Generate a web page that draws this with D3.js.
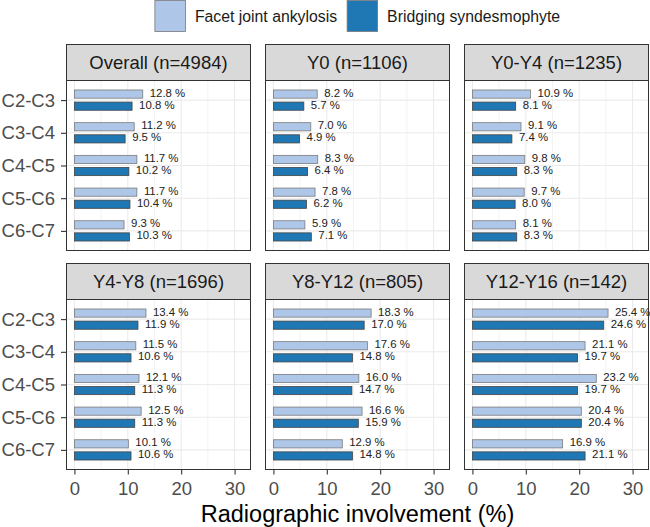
<!DOCTYPE html>
<html>
<head>
<meta charset="utf-8">
<script src="https://cdn.jsdelivr.net/npm/d3@7"></script>
<style>
  body { margin: 0; background: #fff; }
  text { font-family: "Liberation Sans", Arial, sans-serif; }
</style>
</head>
<body>
<div id="chart"></div>
<script>
// data
const levels = ["C2-C3", "C3-C4", "C4-C5", "C5-C6", "C6-C7"];
const panels = ["Overall (n=4984)", "Y0 (n=1106)", "Y0-Y4 (n=1235)",
                "Y4-Y8 (n=1696)", "Y8-Y12 (n=805)", "Y12-Y16 (n=142)"];
const seriesNames = ["Facet joint ankylosis", "Bridging syndesmophyte"];
const facetVals = [
  [12.8, 11.2, 11.7, 11.7, 9.3],
  [8.2, 7.0, 8.3, 7.8, 5.9],
  [10.9, 9.1, 9.8, 9.7, 8.1],
  [13.4, 11.5, 12.1, 12.5, 10.1],
  [18.3, 17.6, 16.0, 16.6, 12.9],
  [25.4, 21.1, 23.2, 20.4, 16.9]
];
const bridgingVals = [
  [10.8, 9.5, 10.2, 10.4, 10.3],
  [5.7, 4.9, 6.4, 6.2, 7.1],
  [8.1, 7.4, 8.3, 8.0, 8.3],
  [11.9, 10.6, 11.3, 11.3, 10.6],
  [17.0, 14.8, 14.7, 15.9, 14.8],
  [24.6, 19.7, 19.7, 20.4, 21.1]
];
const xTicks = [0, 10, 20, 30];
const xMinor = [5, 15, 25];

const width = 650, height = 527;
const colors = ["#aec7e8", "#1f77b4"];

const colLeft = [66, 265, 464];
const panelW = 185;
const rowTop = [44, 263];
const stripH = 36;
const panelH = 170;

let svg = d3.select("#chart")
    .append("svg")
    .attr("width", width)
    .attr("height", height);

// x scale: limits 0..31.5 with 5% expansion each side
let xmax = 31.5;
let x = d3.scaleLinear()
    .domain([-0.05 * xmax, 1.05 * xmax])
    .range([0, panelW]);

// y positions for the vertebra levels
let y = d3.scalePoint()
    .domain(levels)
    .range([0, panelH])
    .padding(0.6);
let step = y.step();

// legend, centred over the panels
let legend = svg.append("g");
let keyW = 30.5, keyH = 31, keyGap = 9.5, itemGap = 10;
let cursor = 0;
seriesNames.forEach(function(name, i) {
    legend.append("rect")
        .attr("x", cursor)
        .attr("y", 0.5)
        .attr("width", keyW)
        .attr("height", keyH)
        .attr("fill", colors[i])
        .attr("stroke", "#777")
        .attr("stroke-width", 0.8);
    let t = legend.append("text")
        .attr("x", cursor + keyW + keyGap)
        .attr("y", 16)
        .attr("dy", "0.35em")
        .style("font-size", "15.8px")
        .attr("fill", "#1a1a1a")
        .text(name);
    cursor += keyW + keyGap + t.node().getComputedTextLength() + itemGap;
});
let legendW = cursor - itemGap;
let centre = (colLeft[0] + colLeft[2] + panelW) / 2;
legend.attr("transform", "translate(" + (centre - legendW / 2) + ",0)");

panels.forEach(function(title, p) {
    let col = p % 3, row = Math.floor(p / 3);
    let g = svg.append("g")
        .attr("transform", "translate(" + colLeft[col] + "," + rowTop[row] + ")");

    // strip
    g.append("rect")
        .attr("x", 0.5).attr("y", 0.5)
        .attr("width", panelW - 1).attr("height", stripH)
        .attr("fill", "#d9d9d9")
        .attr("stroke", "#333")
        .attr("stroke-width", 1);
    g.append("text")
        .attr("x", panelW / 2)
        .attr("y", stripH / 2 + 0.5)
        .attr("dy", "0.35em")
        .style("text-anchor", "middle")
        .style("font-size", "18.5px")
        .attr("fill", "#1a1a1a")
        .text(title);

    let body = g.append("g").attr("transform", "translate(0," + (stripH + 0.5) + ")");

    // grid
    body.selectAll(".minor")
        .data(xMinor)
        .enter()
        .append("line")
        .attr("x1", d => x(d)).attr("x2", d => x(d))
        .attr("y1", 0).attr("y2", panelH)
        .attr("stroke", "#ebebeb").attr("stroke-width", 0.6);
    body.selectAll(".major")
        .data(xTicks)
        .enter()
        .append("line")
        .attr("x1", d => x(d)).attr("x2", d => x(d))
        .attr("y1", 0).attr("y2", panelH)
        .attr("stroke", "#ebebeb").attr("stroke-width", 1.1);
    body.selectAll(".hgrid")
        .data(levels)
        .enter()
        .append("line")
        .attr("x1", 0).attr("x2", panelW)
        .attr("y1", d => y(d)).attr("y2", d => y(d))
        .attr("stroke", "#ebebeb").attr("stroke-width", 1.1);

    // bars and their labels
    let rows = levels.map(function(lv, i) {
        return {level: lv, vals: [facetVals[p][i], bridgingVals[p][i]]};
    });
    rows.forEach(function(r) {
        r.vals.forEach(function(v, s) {
            let cy = y(r.level) + (s === 0 ? -0.185 : 0.185) * step;
            body.append("rect")
                .attr("x", x(0))
                .attr("y", cy - 0.125 * step)
                .attr("width", x(v) - x(0))
                .attr("height", 0.25 * step)
                .attr("fill", colors[s])
                .attr("stroke", s === 0 ? "#7a7a7a" : "#444")
                .attr("stroke-width", 0.8);
            body.append("text")
                .attr("x", x(v) + 7)
                .attr("y", cy - 1.5)
                .attr("dy", "0.35em")
                .style("font-size", "11.4px")
                .attr("fill", "#222")
                .text(v.toFixed(1) + " %");
        });
    });

    // panel border
    body.append("rect")
        .attr("x", 0.5).attr("y", 0)
        .attr("width", panelW - 1).attr("height", panelH)
        .attr("fill", "none")
        .attr("stroke", "#333")
        .attr("stroke-width", 1);

    // y axis on first column
    if (col === 0) {
        body.append("g")
            .call(d3.axisLeft(y).tickSize(5).tickPadding(6))
            .call(a => a.select(".domain").remove())
            .call(a => a.selectAll("line").attr("stroke", "#333").attr("stroke-width", 1.1))
            .call(a => a.selectAll("text")
                .attr("fill", "#4d4d4d")
                .style("font-size", "18.5px")
                .style("font-family", "Liberation Sans, Arial, sans-serif"));
    }
    // x axis on bottom row
    if (row === 1) {
        body.append("g")
            .attr("transform", "translate(0," + panelH + ")")
            .call(d3.axisBottom(x).tickValues(xTicks).tickSize(5).tickPadding(7))
            .call(a => a.select(".domain").remove())
            .call(a => a.selectAll("line").attr("stroke", "#333").attr("stroke-width", 1.1))
            .call(a => a.selectAll("text")
                .attr("fill", "#4d4d4d")
                .style("font-size", "18.5px")
                .style("font-family", "Liberation Sans, Arial, sans-serif"));
    }
});

svg.append("text")
    .attr("x", (colLeft[0] + colLeft[2] + panelW) / 2)
    .attr("y", 513.5)
    .attr("dy", "0.35em")
    .style("text-anchor", "middle")
    .style("font-size", "23.5px")
    .attr("fill", "#000")
    .text("Radiographic involvement (%)");
</script>
</body>
</html>
